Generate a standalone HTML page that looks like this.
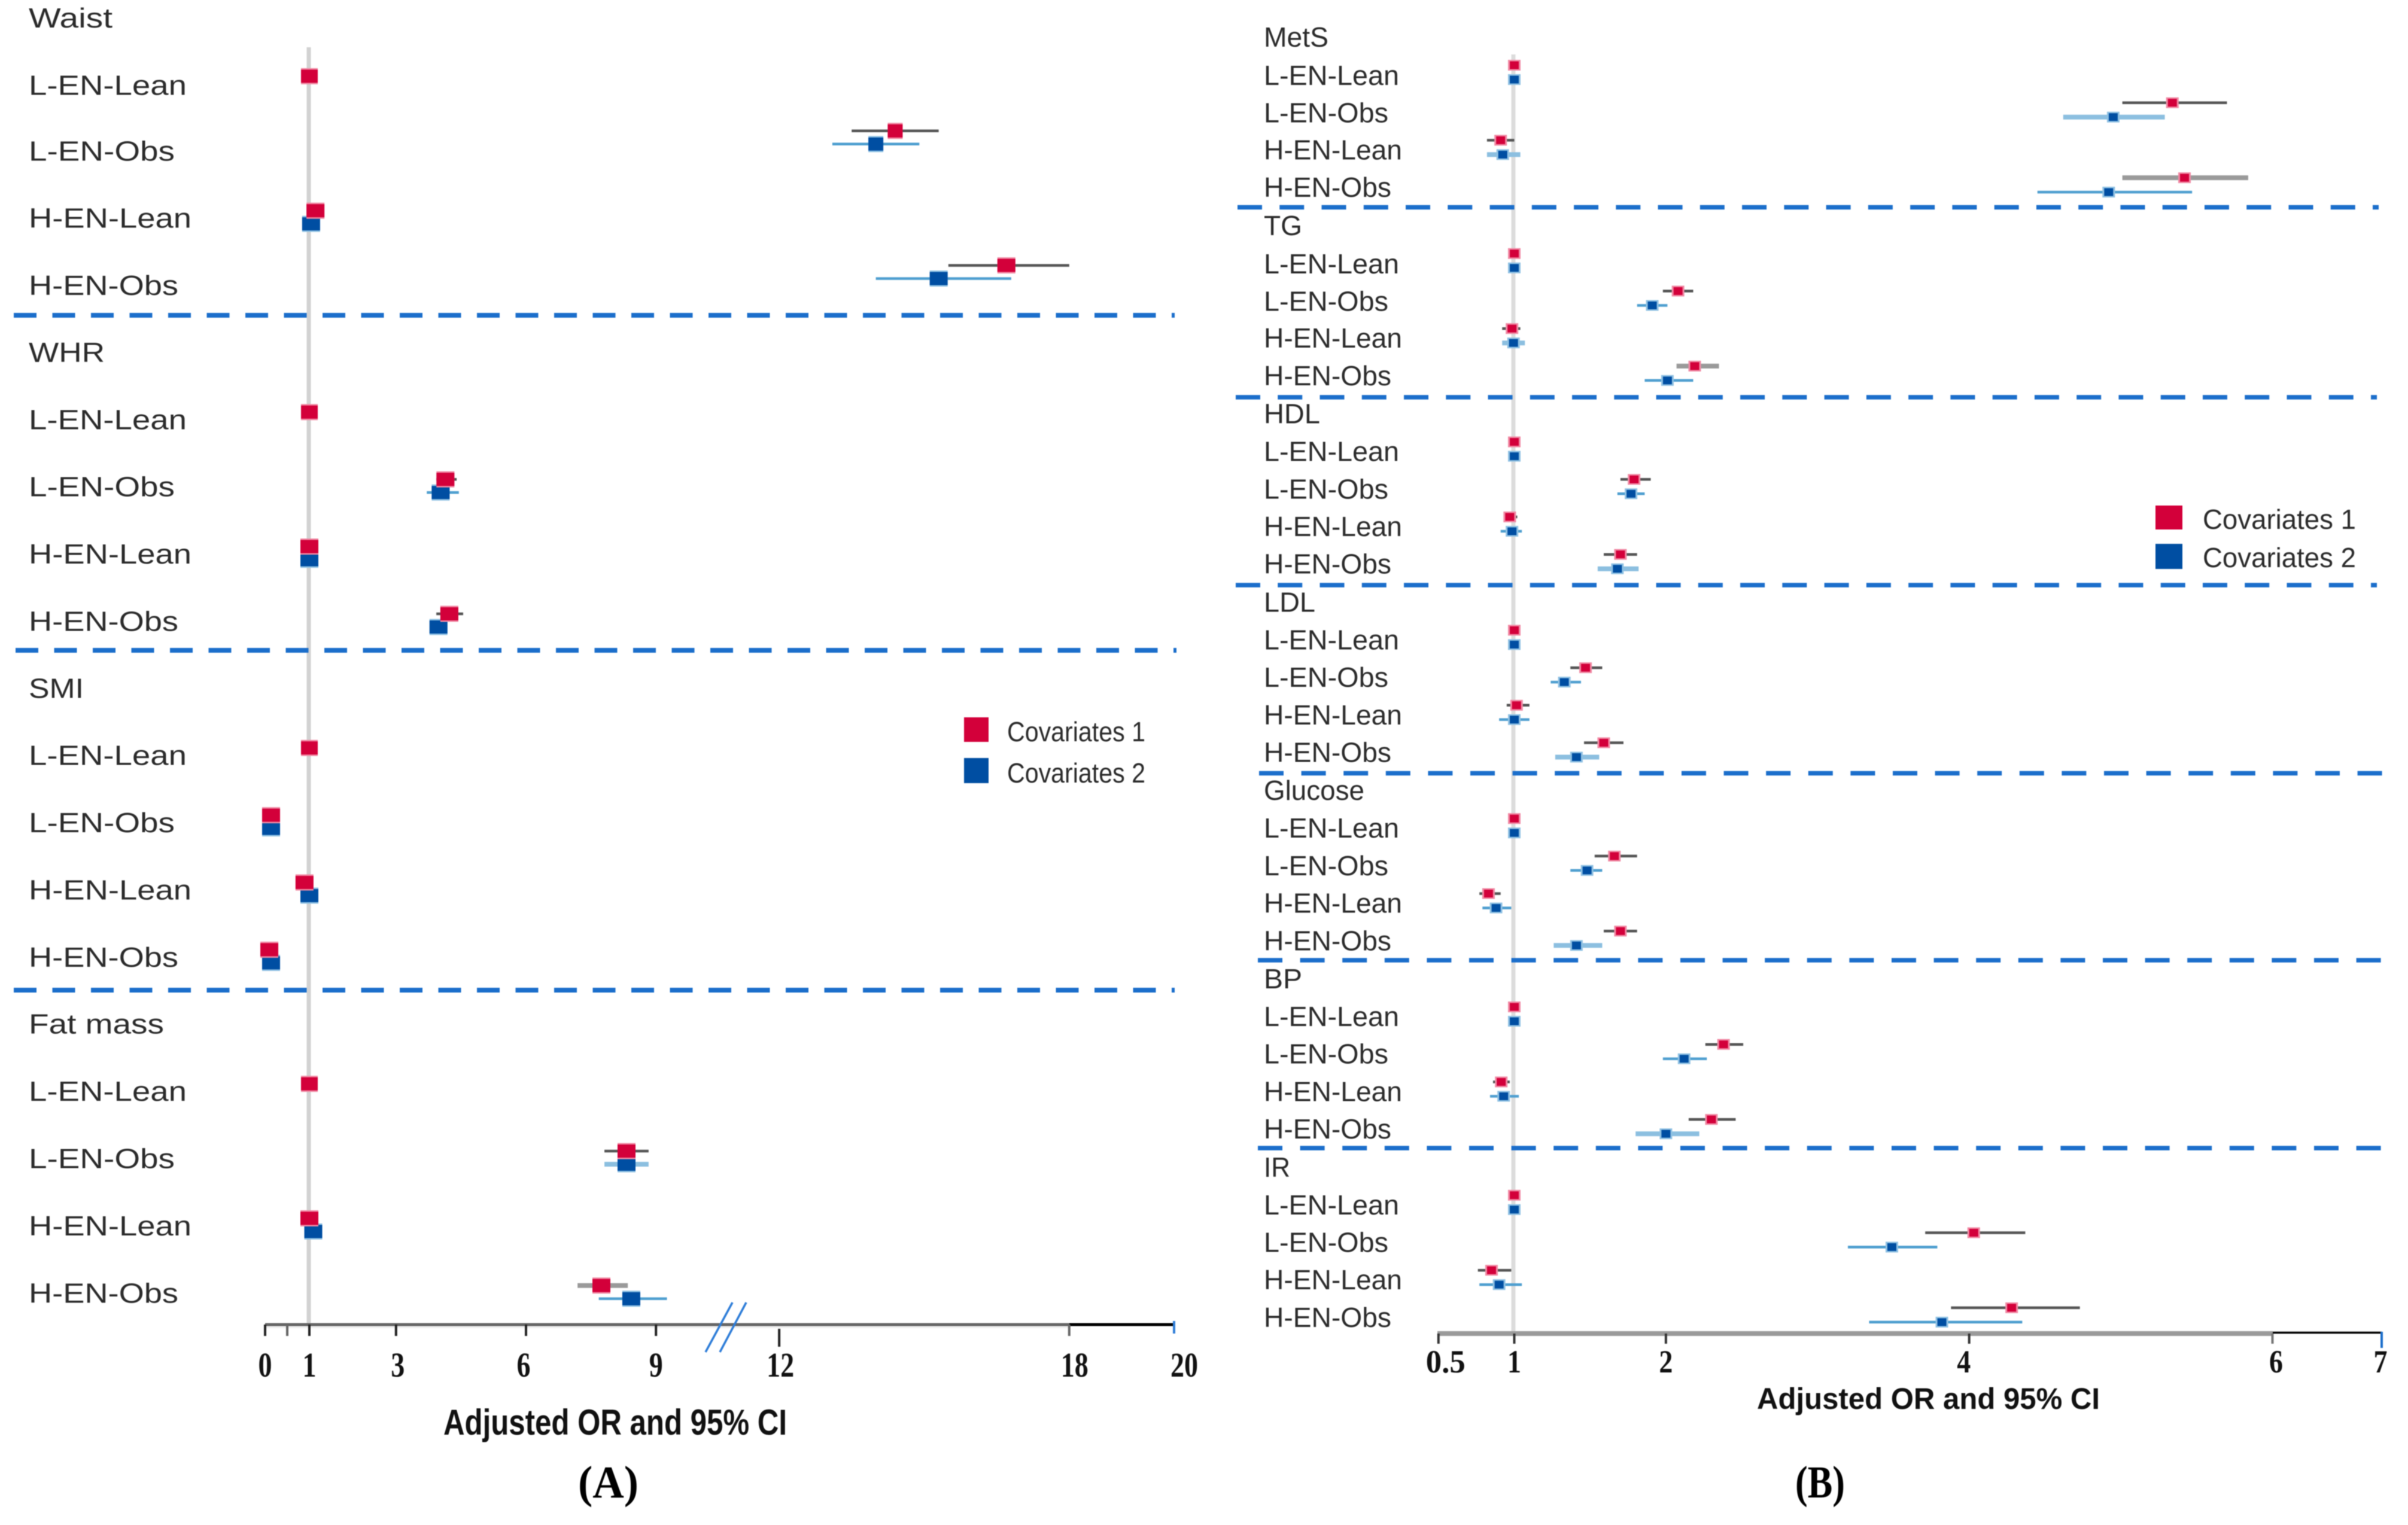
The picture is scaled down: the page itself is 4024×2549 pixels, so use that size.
<!DOCTYPE html>
<html lang="en">
<head>
<meta charset="utf-8">
<title>Adjusted OR forest plots</title>
<style>
html,body{margin:0;padding:0;background:#fff;}
svg{display:block;filter:blur(0.8px);}
text{font-family:"Liberation Sans",sans-serif;}
.lbl{fill:#2b2b2b;font-size:46px;}
.tick{font-family:"Liberation Serif",serif;font-weight:bold;fill:#111;}
.ttl{font-weight:bold;fill:#111;}
.cap{font-family:"Liberation Serif",serif;font-weight:bold;fill:#000;font-size:76px;}
</style>
</head>
<body>
<svg id="chart" xmlns="http://www.w3.org/2000/svg" width="4024" height="2549" viewBox="0 0 4024 2549">
  <rect x="0" y="0" width="4024" height="2549" fill="#fff"/>

  <g id="panelA">
    <line x1="516" y1="79" x2="516" y2="2212" stroke="#d2d2d2" stroke-width="7"/>
    <g stroke="#1b6ecb" stroke-width="8" stroke-dasharray="38 26.5" fill="none">
      <line x1="23" y1="527" x2="1963" y2="527"/>
      <line x1="26" y1="1087" x2="1966" y2="1087"/>
      <line x1="23" y1="1655" x2="1963" y2="1655"/>
    </g>
    <rect x="443" y="2216" width="1344" height="4" fill="#efefef"/>
    <line x1="443" y1="2214" x2="1787" y2="2214" stroke="#666" stroke-width="5"/>
    <line x1="1787" y1="2214" x2="1962" y2="2214" stroke="#000" stroke-width="5"/>
    <line x1="1224" y1="2177" x2="1179" y2="2260" stroke="#2e7dd8" stroke-width="3.5"/>
    <line x1="1247" y1="2177" x2="1203" y2="2260" stroke="#2e7dd8" stroke-width="3.5"/>
    <rect x="1611" y="1199" width="41" height="41" fill="#d3003a"/>
    <rect x="1611" y="1267" width="41" height="42" fill="#004ea2"/>
    <text class="lbl" x="1683" y="1239" textLength="231" lengthAdjust="spacingAndGlyphs">Covariates 1</text>
    <text class="lbl" x="1683" y="1308" textLength="231" lengthAdjust="spacingAndGlyphs">Covariates 2</text>
    <text class="ttl" x="741" y="2398" font-size="60" textLength="574" lengthAdjust="spacingAndGlyphs">Adjusted OR and 95% CI</text>
    <text class="cap" x="966" y="2503" textLength="101" lengthAdjust="spacingAndGlyphs">(A)</text>
  </g>

  <g id="panelB">
    <line x1="2529" y1="91" x2="2529" y2="2226" stroke="#dcdcdc" stroke-width="7"/>
    <g stroke="#1b6ecb" stroke-width="7.5" fill="none">
      <line stroke-dasharray="41 29.26" x1="2068" y1="346.5" x2="3975" y2="346.5"/>
      <line stroke-dasharray="41 29.26" x1="2065" y1="664" x2="3972" y2="664"/>
      <line stroke-dasharray="41 29.26" x1="2065" y1="978" x2="3972" y2="978"/>
      <line stroke-dasharray="41 29.6" x1="2104" y1="1292.5" x2="4008" y2="1292.5"/>
      <line stroke-dasharray="41 29.6" x1="2102" y1="1605" x2="4006" y2="1605"/>
      <line stroke-dasharray="41 29.6" x1="2102" y1="1919" x2="4006" y2="1919"/>
    </g>
    <line x1="2402" y1="2229" x2="3798" y2="2229" stroke="#9a9a9a" stroke-width="8"/>
    <line x1="3798" y1="2227.5" x2="3980" y2="2227.5" stroke="#000" stroke-width="3.5"/>
    <rect x="3602" y="845" width="45" height="40" fill="#d3003a"/>
    <rect x="3602" y="909" width="45" height="42" fill="#004ea2"/>
    <text class="lbl" x="3681" y="884" textLength="256" lengthAdjust="spacingAndGlyphs">Covariates 1</text>
    <text class="lbl" x="3681" y="948" textLength="256" lengthAdjust="spacingAndGlyphs">Covariates 2</text>
    <text class="ttl" x="2936" y="2355" font-size="50" textLength="573" lengthAdjust="spacingAndGlyphs">Adjusted OR and 95% CI</text>
    <text class="cap" x="3000" y="2503" textLength="83" lengthAdjust="spacingAndGlyphs">(B)</text>
  </g>
</svg>

<script>
// ---------- shared categories ----------
const rowNames = ['L-EN-Lean', 'L-EN-Obs', 'H-EN-Lean', 'H-EN-Obs'];

// ---------- Panel A data (one inner array per group, one value per row) ----------
const groupsA = ['Waist', 'WHR', 'SMI', 'Fat mass'];
const ticksA = [0, 0.5, 1, 3, 6, 9, 12, 18, 20];
const tickLabelsA = ['0', '', '1', '3', '6', '9', '12', '18', '20'];
const cov1A = [[1, 14.4, 1.14, 16.7], [1, 4.14, 1.0, 4.23], [1, 0.135, 0.89, 0.095], [1, 8.32, 1.0, 7.74]];
const cov1LoA = [[1, 13.5, 1.14, 15.5], [1, 3.93, 1.0, 3.93], [1, 0.135, 0.89, 0.095], [1, 7.81, 1.0, 7.19]];
const cov1HiA = [[1, 15.3, 1.14, 18.0], [1, 4.40, 1.0, 4.55], [1, 0.135, 0.89, 0.095], [1, 8.83, 1.0, 8.35]];
const cov2A = [[null, 14.0, 1.04, 15.3], [null, 4.03, 1.0, 3.98], [null, 0.135, 1.0, 0.135], [null, 8.32, 1.09, 8.43]];
const cov2LoA = [[null, 13.1, 1.04, 14.0], [null, 3.71, 1.0, 3.85], [null, 0.135, 1.0, 0.135], [null, 7.81, 1.09, 7.68]];
const cov2HiA = [[null, 14.9, 1.04, 16.8], [null, 4.45, 1.0, 4.12], [null, 0.135, 1.0, 0.135], [null, 8.83, 1.09, 9.27]];

// ---------- Panel B data ----------
const groupsB = ['MetS', 'TG', 'HDL', 'LDL', 'Glucose', 'BP', 'IR'];
const ticksB = [0.5, 1, 2, 4, 6, 7];
const tickLabelsB = ['0.5', '1', '2', '4', '6', '7'];
const cov1B = [[1, 5.34, 0.91, 5.42], [1, 2.08, 0.985, 2.19], [1, 1.79, 0.97, 1.70], [1, 1.47, 1.015, 1.59], [1, 1.66, 0.83, 1.70], [1, 2.38, 0.914, 2.30], [1, 4.03, 0.85, 4.28]];
const cov1LoB = [[1, 5.01, 0.82, 5.01], [1, 1.98, 0.92, 2.07], [1, 1.70, 0.93, 1.59], [1, 1.37, 0.95, 1.46], [1, 1.53, 0.77, 1.59], [1, 2.26, 0.86, 2.15], [1, 3.71, 0.76, 3.88]];
const cov1HiB = [[1, 5.70, 1.0, 5.84], [1, 2.18, 1.04, 2.35], [1, 1.90, 1.02, 1.81], [1, 1.58, 1.10, 1.72], [1, 1.81, 0.91, 1.81], [1, 2.51, 0.97, 2.46], [1, 4.37, 0.98, 4.73]];
const cov2B = [[1, 4.95, 0.924, 4.92], [1, 1.91, 0.995, 2.01], [1, 1.77, 0.985, 1.68], [1, 1.33, 1.0, 1.41], [1, 1.48, 0.88, 1.41], [1, 2.12, 0.93, 2.0], [1, 3.49, 0.90, 3.82]];
const cov2LoB = [[1, 4.62, 0.82, 4.45], [1, 1.81, 0.92, 1.86], [1, 1.68, 0.91, 1.55], [1, 1.24, 0.90, 1.27], [1, 1.37, 0.79, 1.26], [1, 1.98, 0.84, 1.80], [1, 3.20, 0.77, 3.34]];
const cov2HiB = [[1, 5.29, 1.04, 5.47], [1, 2.01, 1.07, 2.18], [1, 1.86, 1.05, 1.82], [1, 1.44, 1.10, 1.56], [1, 1.58, 0.98, 1.58], [1, 2.27, 1.03, 2.22], [1, 3.79, 1.05, 4.35]];

// ---------- axis functions ----------
function xA(v) {
  if (v <= 1) return 443 + 74 * v;
  if (v <= 9) return 517 + 72.4 * (v - 1);
  if (v <= 12) return 1096 + 68.7 * (v - 9);
  if (v <= 18) return 1302 + 80.8 * (v - 12);
  return 1787 + 87.5 * (v - 18);
}
function xB(v) {
  if (v <= 6) return 2530.5 + 253.4 * (v - 1);
  return 3797.5 + 182.5 * (v - 6);
}
function baseA(g, r) { return 46 + 561.4 * g + 112.4 * (r + 1); }
function baseB(g, r) { return 78 + 314.8 * g + 63 + 62.7 * r; }
function labelYA(g, r) { return baseA(g, r) - (r === 0 && g === 0 ? 0 : 2.5); }
function labelYB(g, r) { return baseB(g, r) + (g < 2 && r < 2 ? 1 : 0); }
function titleA(g) { return 46 + 561.4 * g - (g > 0 ? 2.5 : 0); }
function titleB(g) { return 78 + 314.8 * g; }
function markYA(g, r, s) {
  const shift = (g === 0 && (r === 1 || r === 3)) ? 21 : 0;
  return baseA(g, r) - (s === 0 ? 31 : 9) - shift;
}
function markYB(g, r, s) { return baseB(g, r) - (s === 0 ? 32 : 8); }
function markWA(g, r) {
  if (g === 0 && r === 1) return 25;
  return r === 0 ? 28 : 30;
}
function markWB() { return 15; }

const NS = 'http://www.w3.org/2000/svg';
const labelW = {
  A: {'L-EN-Lean': 264, 'L-EN-Obs': 244, 'H-EN-Lean': 272, 'H-EN-Obs': 250, 'Waist': 140, 'WHR': 127, 'SMI': 92, 'Fat mass': 226},
  B: {'L-EN-Lean': 226, 'L-EN-Obs': 208, 'H-EN-Lean': 231, 'H-EN-Obs': 213, 'MetS': 108, 'TG': 64, 'HDL': 94, 'LDL': 86, 'Glucose': 168, 'BP': 64, 'IR': 44}
};
const heavyCI = new Set(['A311', 'A330', 'B011', 'B021', 'B030', 'B121', 'B130', 'B231', 'B331', 'B431', 'B531']);

function slug(s) { return s.toLowerCase().replace(/[^a-z0-9]+/g, '-'); }
function make(tag, attrs) {
  const n = document.createElementNS(NS, tag);
  for (const k in attrs) n.setAttribute(k, attrs[k]);
  return n;
}
function addLabel(parent, str, x, y, key, className) {
  const t = make('text', {x: x, y: y, class: className, textLength: labelW[key][str], lengthAdjust: 'spacingAndGlyphs'});
  t.textContent = str;
  
  
  parent.appendChild(t);
}
function drawCI(parent, key, g, r, s, x, lo, hi, y, groupName) {
  const prefix = slug(groupName) + '-' + slug(rowNames[r]) + (s === 0 ? '-covariates-1' : '-covariates-2');
  const heavy = heavyCI.has(key + g + r + (s === 0 ? '0' : '1'));
  if (lo !== hi) {
    const stroke = s === 0 ? (heavy ? '#9a9a9a' : '#555555') : (heavy ? '#8cbfe0' : '#4f9fd0');
    const ci = make('line', {x1: x(lo), x2: x(hi), y1: y, y2: y, stroke: stroke, 'stroke-width': heavy ? 8 : 4.5});
    
    
    parent.appendChild(ci);
  }
}
function drawPoint(parent, g, r, s, px, y, w, h, fx, groupName) {
  const prefix = slug(groupName) + '-' + slug(rowNames[r]) + (s === 0 ? '-covariates-1' : '-covariates-2');
  const fringe = make('rect', {x: px - w / 2 - fx, y: y - h / 2 - 2.5, width: w + 2 * fx, height: h + 5, fill: s === 0 ? '#f08aa4' : '#8fc1e3'});
  
  
  parent.appendChild(fringe);
  const m = make('rect', {x: px - w / 2, y: y - h / 2, width: w, height: h, fill: s === 0 ? '#d3003a' : '#004ea2'});
  
  
  parent.appendChild(m);
}
function drawPanel(cfg) {
  const root = document.getElementById(cfg.root);
  cfg.groups.forEach(function (name, g) {
    addLabel(root, name, cfg.labelX, cfg.titleY(g), cfg.key, 'lbl');
    rowNames.forEach(function (row, r) {
      addLabel(root, row, cfg.labelX, cfg.labelY(g, r), cfg.key, 'lbl');
    });
  });
  // blue series first so the red series sits on top
  [1, 0].forEach(function (s) {
    const vals = s === 0 ? cfg.c1 : cfg.c2;
    const los = s === 0 ? cfg.c1Lo : cfg.c2Lo;
    const his = s === 0 ? cfg.c1Hi : cfg.c2Hi;
    cfg.groups.forEach(function (name, g) {
      rowNames.forEach(function (row, r) {
        if (vals[g][r] === null) return;
        drawCI(root, cfg.key, g, r, s, cfg.x, los[g][r], his[g][r], cfg.markY(g, r, s), name);
      });
    });
    cfg.groups.forEach(function (name, g) {
      rowNames.forEach(function (row, r) {
        if (vals[g][r] === null) return;
        drawPoint(root, g, r, s, cfg.x(vals[g][r]), cfg.markY(g, r, s), cfg.markW(g, r), cfg.markH, cfg.fringeX, name);
      });
    });
  });
  cfg.ticks.forEach(function (v, i) {
    const px = cfg.x(v);
    const tk = make('line', {x1: px, x2: px, y1: cfg.tickY1(v), y2: cfg.tickY2(v), stroke: cfg.tickColor(v), 'stroke-width': 4});
    
    
    root.appendChild(tk);
    const label = cfg.tickLabels[i];
    if (label) {
      const t = make('text', {x: px + cfg.labelNudge(v), y: cfg.tickBase, class: 'tick', 'font-size': cfg.tickSize, 'text-anchor': 'middle', textLength: label === '0.5' ? 66 : label.length * 23, lengthAdjust: 'spacingAndGlyphs'});
      t.textContent = label;
      
      
      root.appendChild(t);
    }
  });
}

drawPanel({
  root: 'panelA', key: 'A', groups: groupsA, ticks: ticksA, tickLabels: tickLabelsA,
  c1: cov1A, c1Lo: cov1LoA, c1Hi: cov1HiA, c2: cov2A, c2Lo: cov2LoA, c2Hi: cov2HiA,
  x: xA, labelY: labelYA, titleY: titleA, markY: markYA, markW: markWA, markH: 22, fringeX: 0, labelX: 48,
  tickBase: 2301, tickSize: 58,
  tickY1: function (v) { return v === 12 ? 2221 : (v === 20 ? 2208 : 2214); },
  tickY2: function (v) { return v === 12 ? 2251 : (v === 20 ? 2229 : 2233); },
  tickColor: function (v) { return v === 20 ? '#2e7dd8' : (v === 0.5 || v === 18 ? '#666' : '#222'); },
  labelNudge: function (v) { return v === 20 ? 17 : v === 18 ? 9 : v === 6 ? -4 : v === 3 ? 3 : v === 12 ? 2 : 0; }
});
drawPanel({
  root: 'panelB', key: 'B', groups: groupsB, ticks: ticksB, tickLabels: tickLabelsB,
  c1: cov1B, c1Lo: cov1LoB, c1Hi: cov1HiB, c2: cov2B, c2Lo: cov2LoB, c2Hi: cov2HiB,
  x: xB, labelY: labelYB, titleY: titleB, markY: markYB, markW: markWB, markH: 13, fringeX: 3, labelX: 2112,
  tickBase: 2294, tickSize: 54,
  tickY1: function (v) { return v === 7 ? 2226 : 2229; },
  tickY2: function (v) { return v === 7 ? 2253 : 2246; },
  tickColor: function (v) { return v === 7 ? '#1b6ecb' : (v === 6 ? '#777' : '#333'); },
  labelNudge: function (v) { return v === 0.5 ? 12 : v === 4 ? -9 : v === 6 ? 6 : v === 7 ? -2 : 0; }
});
</script>
</body>
</html>
